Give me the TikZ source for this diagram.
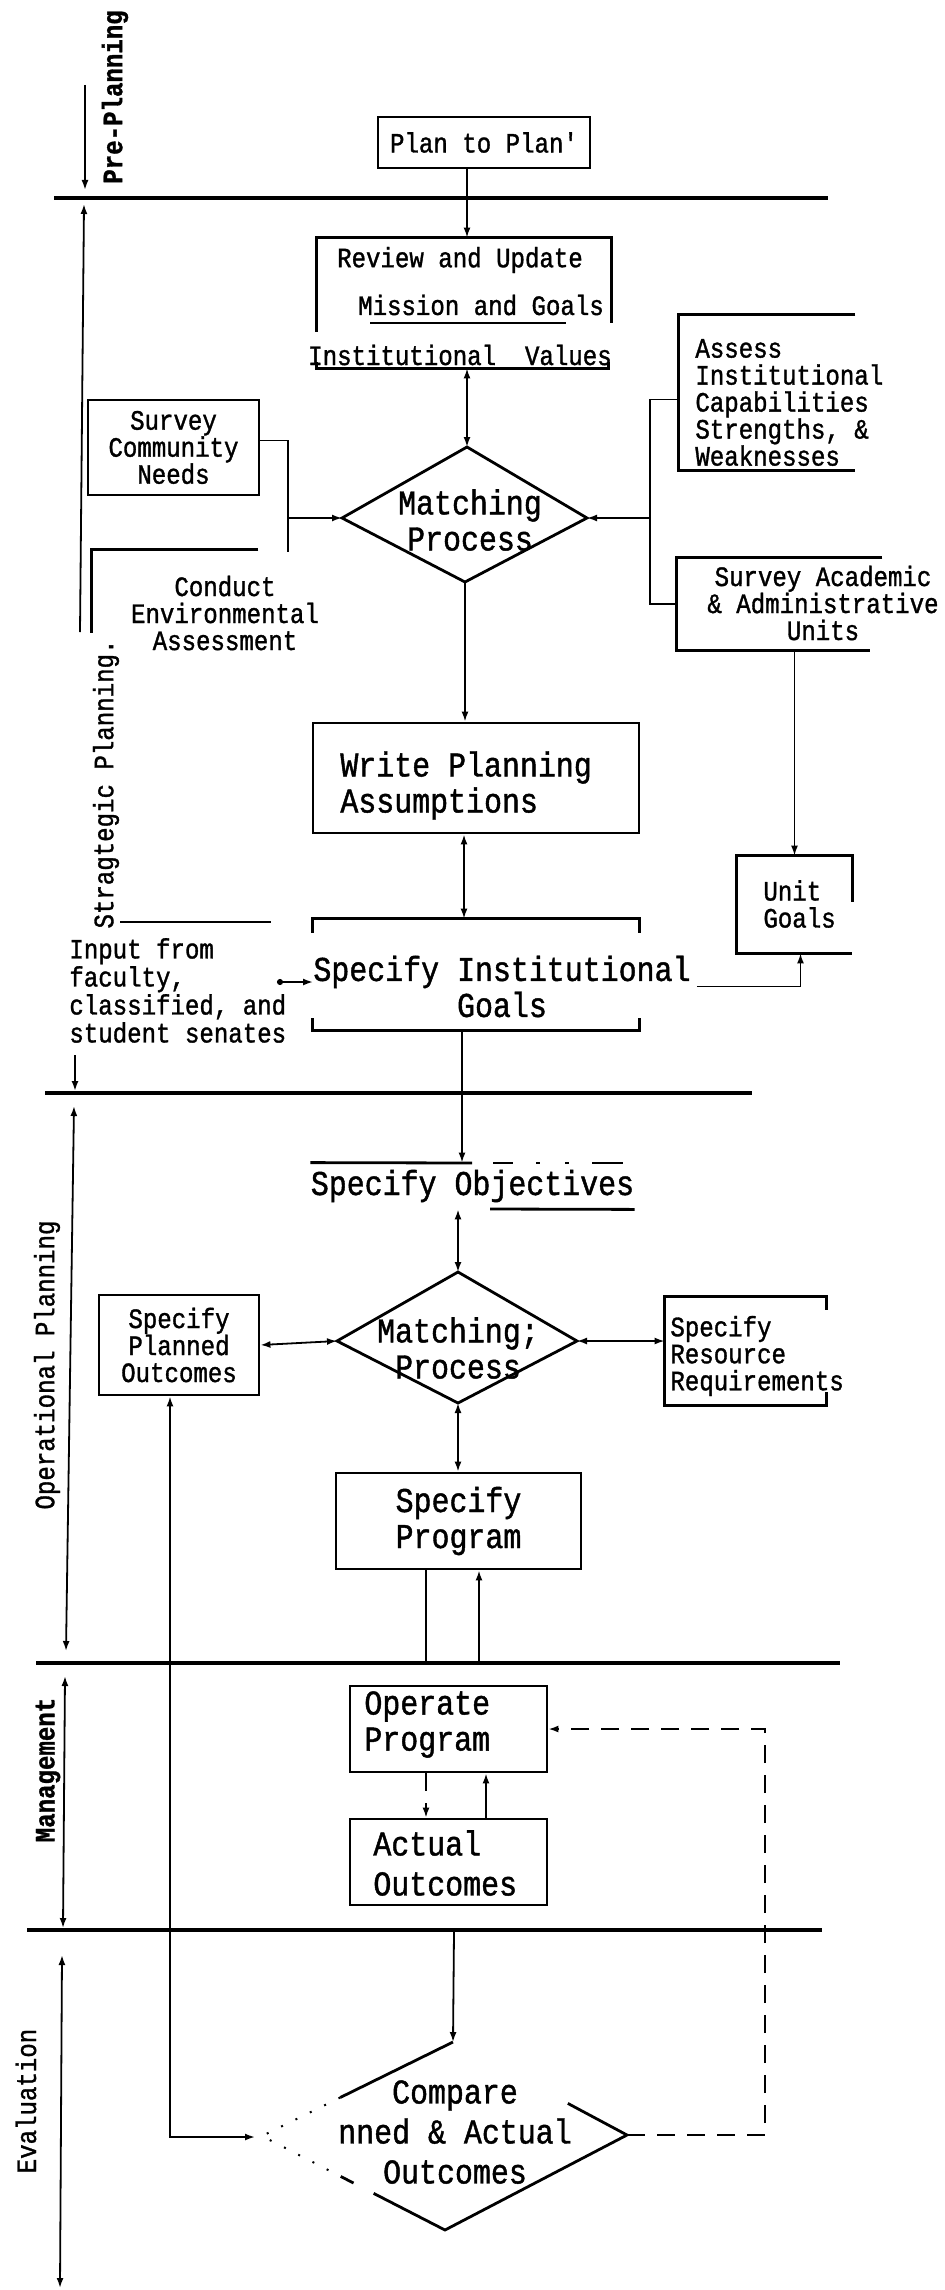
\documentclass[tikz,border=0pt]{standalone}
\usepackage{fontspec}
\newfontfamily\twf[FakeStretch=0.86,FakeBold=1.2]{Liberation Mono}
\newcommand\twsm{\twf\fontsize{14}{13.5}\selectfont}
\newcommand\twbg{\twf\fontsize{17.4}{18}\selectfont}
\usetikzlibrary{arrows.meta,calc}
\begin{document}
\begin{tikzpicture}[x=0.5pt,y=-0.5pt,
  boxl/.style={line width=1.4pt},
  conn/.style={line width=0.9pt},
  sect/.style={line width=2pt},
  arr/.style={conn,-{Latex[length=5pt,width=3.5pt]}},
  rarr/.style={conn,{Latex[length=5pt,width=3.5pt]}-},
  darr/.style={conn,{Latex[length=5pt,width=3.5pt]}-{Latex[length=5pt,width=3.5pt]}},
  fbox/.style={draw,boxl,inner sep=0pt},
  hold/.style={inner sep=0pt},
  sm/.style={font=\twsm,inner sep=0pt},
  bg/.style={font=\twbg,inner sep=0pt},
  side/.style={font=\twsm,rotate=90,inner sep=0pt},
  dash2/.style={conn,dash pattern=on 9pt off 6pt},
  dots/.style={line width=1pt,dash pattern=on 1pt off 7pt}
]
\fill[white] (0,0) rectangle (944,2290);
\useasboundingbox (0,0) rectangle (944,2290);

% ---------- section lines ----------
\draw[sect] (54,198) -- (828,198);
\draw[sect] (45,1093) -- (752,1093);
\draw[sect] (36,1663) -- (840,1663);
\draw[sect] (27,1930) -- (822,1930);

% ---------- left axis ----------
\coordinate (a1) at (85,85);   \coordinate (a2) at (85,190);
\coordinate (a3) at (84,204);  \coordinate (a4) at (80,632);
\coordinate (a5) at (75,1055); \coordinate (a6) at (75,1091);
\coordinate (a7) at (74,1106); \coordinate (a8) at (66,1651);
\coordinate (a9) at (65,1676); \coordinate (a10) at (63,1928);
\coordinate (a11) at (62,1955); \coordinate (a12) at (60,2288);
\draw[arr] (a1) -- (a2);
\draw[rarr] (a3) -- (a4);
\draw[arr] (a5) -- (a6);
\draw[darr] (a7) -- (a8);
\draw[darr] (a9) -- (a10);
\draw[darr] (a11) -- (a12);

\node[side] (s1) at (115,97) {\bfseries Pre-Planning};
\node[side] (s2) at (106,784) {Stragtegic Planning.};
\node[side] (s3) at (47,1365) {Operational Planning};
\node[side] (s4) at (48,1770) {\bfseries Management};
\node[side] (s5) at (26,2101) {Evaluation};

% ---------- Plan to Plan ----------
\node[fbox,sm,minimum width=106pt,minimum height=25.5pt] (plan) at (484,142.5) {Plan to Plan'};

% ---------- Review ----------
\node[hold,minimum width=147pt,minimum height=65pt] (review) at (464,303) {};
\draw[boxl] (review.north west) ++(0,94) -- (review.north west) -- (review.north east) -- ++(0,85);
\draw[boxl] (review.south west) ++(0,-6) -- (review.south west) -- ([xshift=-1.5pt]review.south east) -- ++(0,-6);
\node[sm] (rv1) at (460,260) {Review and Update};
\node[sm] (rv2) at (481,305) {Mission and Goals};
\draw[boxl] (370,323) -- (566,323);
\node[sm] (rv3) at (460,355) {Institutional~~Values};

\coordinate (cx1) at (467,0);
\draw[arr] (plan.south -| cx1) -- (review.north -| cx1);

% ---------- Diamond 1 ----------
\coordinate (d1t) at (467,447); \coordinate (d1r) at (587,518);
\coordinate (d1b) at (465,582); \coordinate (d1l) at (342,518);
\draw[boxl] (d1t) -- (d1r) -- (d1b) -- (d1l) -- cycle;
\node[bg,align=center] (m1) at (470,520) {Matching\\Process};
\draw[darr] (review.south -| d1t) -- (d1t);

% ---------- Survey Community ----------
\node[fbox,sm,align=center,minimum width=85.5pt,minimum height=47.5pt] (sv) at (173.5,447.5) {Survey\\Community\\Needs};
\coordinate (j1) at (288,518);
\draw[conn] ([yshift=3.5pt]sv.east) -| (j1) -- ++(0,34);
\draw[arr] (j1) -- (d1l);

% ---------- Environmental ----------
\node[hold,minimum width=83pt,minimum height=41.5pt] (env) at (175,591.5) {};
\draw[boxl] (env.north east) -- (env.north west) -- (env.south west);
\node[sm,align=center] (envt) at (225,613) {Conduct\\Environmental\\Assessment};

% ---------- Assess ----------
\node[hold,minimum width=88pt,minimum height=77.5pt] (assess) at (767,392.5) {};
\draw[boxl] (assess.north east) -- (assess.north west) -- (assess.south west) -- (assess.south east);
\node[sm,align=left,anchor=west] (asst) at (695,402.5) {Assess\\Institutional\\Capabilities\\Strengths, \&\\Weaknesses};

% ---------- Survey Academic ----------
\node[hold,minimum width=102.5pt,minimum height=46pt] (sa) at (779.5,604) {};
\draw[boxl] (sa.north east) -- (sa.north west) -- (sa.south west) -- ([xshift=-6pt]sa.south east);
\node[sm,align=center] (sat) at (823,603) {Survey Academic\\\& Administrative\\Units};
\coordinate (ja) at (650,518);
\draw[conn] ([yshift=-3.5pt]assess.west) -| (sa.west -| ja) -- (sa.west);
\draw[arr] (ja) -- (d1r);

% ---------- Write Planning ----------
\node[fbox,minimum width=163pt,minimum height=55pt] (write) at (476,778) {};
\node[bg,align=left,anchor=west] (wrt) at (340,785.5) {Write Planning\\Assumptions};
\draw[arr] (d1b) -- (d1b |- write.north);

% ---------- Specify Institutional Goals ----------
\node[hold,minimum width=163pt,minimum height=55.5pt] (sig) at (476,974.5) {};
\draw[boxl] (sig.north west) ++(0,14) -- (sig.north west) -- (sig.north east) -- ++(0,14);
\draw[boxl] (sig.south west) ++(0,-12) -- (sig.south west) -- (sig.south east) -- ++(0,-12);
\node[bg,align=center] (sigt) at (502,986.5) {Specify Institutional\\Goals};
\coordinate (cx2) at (464,0);
\draw[darr] (write.south -| cx2) -- (sig.north -| cx2);

% ---------- Unit Goals ----------
\node[hold,minimum width=57.5pt,minimum height=48.5pt] (unit) at (794.5,904.5) {};
\draw[boxl] (unit.north east) ++(0,46) -- (unit.north east) -- (unit.north west) -- (unit.south west) -- (unit.south east);
\node[sm,align=left,anchor=west] (unitt) at (763,904) {Unit\\Goals};
\draw[arr] (sa.south -| unit.north) -- (unit.north);
\draw[arr] ([xshift=3pt]sigt.east) -| ([xshift=3pt]unit.south);

% ---------- Input ----------
\node[font=\twf\fontsize{14}{14}\selectfont,inner sep=0pt,align=left,anchor=west] (inp) at (69,990.5) {Input from\\faculty,\\classified, and\\student senates};
\draw[boxl] (120,922) -- (271,922);
\coordinate (ia) at (277,982);
\draw[conn,{Circle[length=3pt]}-{Latex[length=5pt,width=3.5pt]}] (ia) -- (ia -| sigt.west);

% ---------- Specify Objectives ----------
\node[bg,minimum width=159.5pt,minimum height=23pt] (obj) at (472.5,1186) {Specify Objectives};
\draw[boxl] (obj.north west) -- (472,1163);
\draw[boxl] (493,1163) -- (513,1163) (536,1163) -- (540,1163) (565,1163) -- (569,1163) (592,1163) -- (623,1163);
\draw[boxl] (490,1209) -- (obj.south east);
\coordinate (cx3) at (462,0);
\draw[arr] (sig.south -| cx3) -- (obj.north -| cx3);

% ---------- Diamond 2 ----------
\coordinate (d2t) at (458,1272); \coordinate (d2r) at (577,1341);
\coordinate (d2b) at (458,1403); \coordinate (d2l) at (337,1341);
\draw[boxl] (d2t) -- (d2r) -- (d2b) -- (d2l) -- cycle;
\node[bg,align=center] (m2) at (458,1348) {Matching;\\Process};
\draw[darr] (obj.south -| d2t) -- (d2t);

% ---------- Planned Outcomes ----------
\node[fbox,sm,align=center,minimum width=80pt,minimum height=50pt] (po) at (179,1345) {Specify\\Planned\\Outcomes};
\draw[darr] (po.east) -- (d2l);

% ---------- Resource Requirements ----------
\node[hold,minimum width=80.5pt,minimum height=54pt] (rr) at (745.5,1351) {};
\draw[boxl] (rr.north east) ++(0,13) -- (rr.north east) -- (rr.north west) -- (rr.south west) -- (rr.south east) -- ++(0,-13);
\node[sm,align=left,anchor=west] (rrt) at (670,1356) {Specify\\Resource\\Requirements};
\draw[darr] (d2r) -- (d2r -| rr.west);

% ---------- Specify Program ----------
\node[fbox,bg,align=center,minimum width=122.5pt,minimum height=48pt] (sp) at (458.5,1521) {Specify\\Program};
\draw[darr] (d2b) -- (sp.north -| d2b);
\coordinate (l3a) at (426,1663); \coordinate (l3b) at (479,1663);
\draw[conn] (sp.south -| l3a) -- (l3a);
\draw[arr] (l3b) -- (sp.south -| l3b);

% ---------- Operate / Actual ----------
\node[fbox,minimum width=98.5pt,minimum height=43pt] (op) at (448.5,1729) {};
\node[bg,align=left,anchor=west] (opt) at (364,1724.5) {Operate\\Program};
\node[fbox,minimum width=98.5pt,minimum height=43pt] (ao) at (448.5,1862) {};
\node[bg,align=left,anchor=west] (aot) at (373,1863) {Actual\\[2pt]Outcomes};
\coordinate (oa) at (426,0); \coordinate (ob) at (486,0);
\draw[dash2,-{Latex[length=5pt,width=3.5pt]}] (op.south -| oa) -- (ao.north -| oa);
\draw[arr] (ao.north -| ob) -- (op.south -| ob);

% ---------- Compare diamond ----------
\coordinate (ct) at (453,2042); \coordinate (cr) at (627,2135);
\coordinate (cb) at (445,2230); \coordinate (cl) at (262,2136);
\draw[boxl] ($(ct)!0.59!(cl)$) -- (ct);
\draw[boxl] ($(cr)!0.34!(ct)$) -- (cr) -- (cb) -- ($(cb)!0.39!(cl)$);
\draw[boxl] ($(cl)!0.43!(cb)$) -- ($(cl)!0.5!(cb)$);
\draw[dots] ($(ct)!0.59!(cl)$) -- (cl) -- ($(cl)!0.43!(cb)$);
\node[bg,align=center] (cmp) at (455,2132) {Compare\\[2pt]nned \& Actual\\[2pt]Outcomes};
\coordinate (c4) at (454,1932);
\draw[arr] (c4) -- (ct);

% planned outcomes feedback
\coordinate (pl) at (170,2137); \coordinate (pla) at (255,2137);
\draw[darr] (po.south -| pl) -- (pl) -- (pla);

% dashed loop to operate
\coordinate (fb) at (765,0);
\draw[dash2,-{Latex[length=5pt,width=3.5pt]}] (cr) -| (op.east -| fb) -- (op.east);
\end{tikzpicture}
\end{document}
